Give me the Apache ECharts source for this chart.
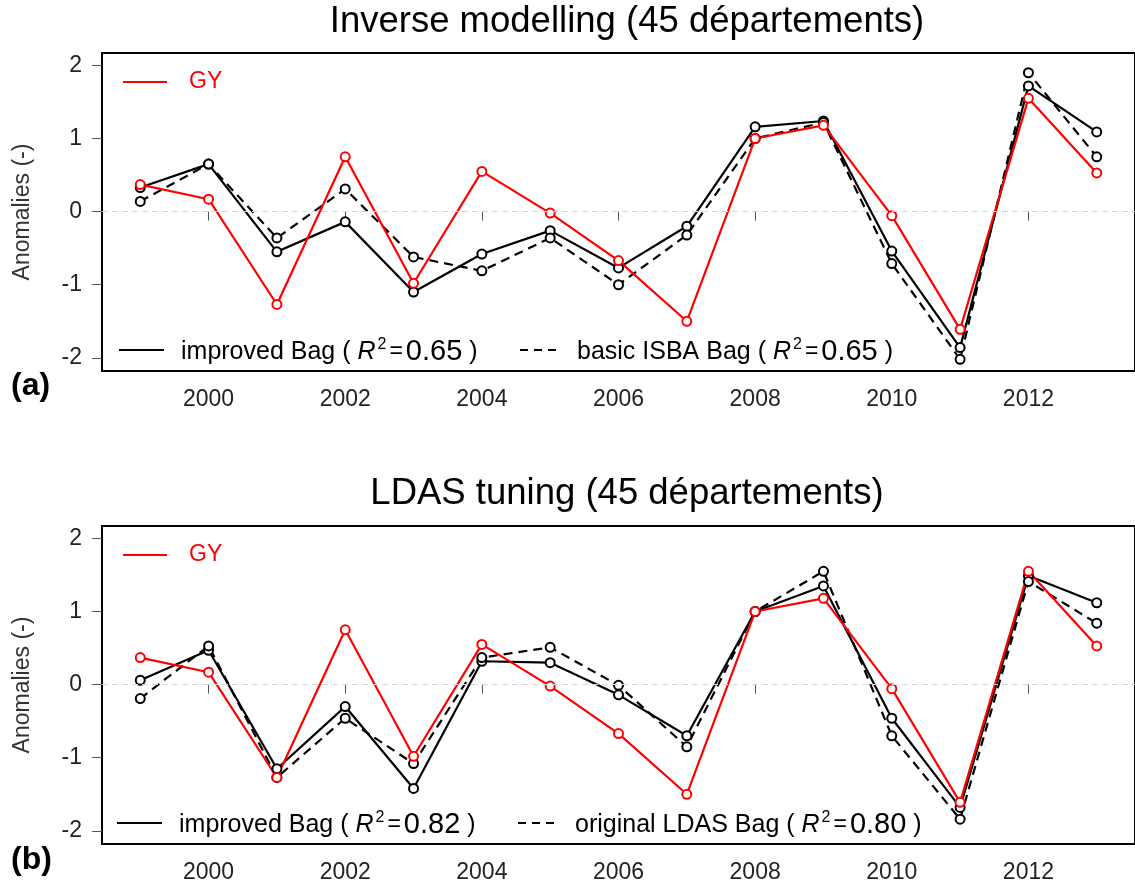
<!DOCTYPE html>
<html>
<head>
<meta charset="utf-8">
<script src="https://cdn.jsdelivr.net/npm/echarts@6/dist/echarts.min.js"></script>
<style>
  html, body { margin: 0; padding: 0; background: #fff; }
  #chart { width: 1135px; height: 888px; }
</style>
</head>
<body>
<div id="chart"></div>
<script>
// years and tick labels
const years = [1999, 2000, 2001, 2002, 2003, 2004, 2005, 2006, 2007, 2008, 2009, 2010, 2011, 2012, 2013];
const xTicks = [2000, 2002, 2004, 2006, 2008, 2010, 2012];
const yTicks = [-2, -1, 0, 1, 2];

// observed grain yield anomalies (same in both panels)
const gy = [0.37, 0.17, -1.27, 0.75, -0.98, 0.55, -0.02, -0.67, -1.5, 1.0, 1.18, -0.055, -1.61, 1.55, 0.53];

// (a) inverse modelling
const improvedA = [0.33, 0.65, -0.55, -0.14, -1.10, -0.58, -0.26, -0.77, -0.20, 1.16, 1.24, -0.54, -1.86, 1.72, 1.09];
const basicA = [0.14, 0.65, -0.36, 0.31, -0.62, -0.81, -0.36, -1.0, -0.32, 1.0, 1.22, -0.71, -2.02, 1.90, 0.75];

// (b) LDAS tuning
const improvedB = [0.06, 0.47, -1.15, -0.30, -1.42, 0.32, 0.30, -0.14, -0.70, 1.0, 1.35, -0.46, -1.68, 1.49, 1.12];
const ldasB = [-0.19, 0.53, -1.27, -0.46, -1.08, 0.37, 0.51, -0.01, -0.85, 1.0, 1.55, -0.70, -1.84, 1.41, 0.84];

const font = '"Liberation Sans", Arial, sans-serif';
const pairs = vals => years.map((y, i) => [y, vals[i]]);

const gridTops = [53, 526];

function xAxisFor(i) {
  return {
    type: 'value', gridIndex: i, min: 1998.44, max: 2013.56,
    axisLine: { show: false },
    splitLine: { show: false },
    axisTick: { show: true, length: 9, customValues: xTicks, lineStyle: { color: '#555', width: 1 } },
    axisLabel: { customValues: xTicks, margin: 17, fontSize: 23, color: '#222', fontFamily: font,
      formatter: v => String(v) }
  };
}
function yAxisFor(i) {
  return {
    type: 'value', gridIndex: i, min: -2.18, max: 2.17,
    name: 'Anomalies (-)', nameLocation: 'middle', nameGap: 68, nameRotate: 90,
    nameTextStyle: { fontSize: 23, color: '#333', fontFamily: font },
    axisLine: { show: false },
    splitLine: { show: false },
    axisTick: { show: true, length: 10, customValues: yTicks, lineStyle: { color: '#555', width: 1 } },
    axisLabel: { customValues: yTicks, margin: 20, fontSize: 23, color: '#222', fontFamily: font }
  };
}

function lineSeries(i, vals, color, dashed, zeroLine) {
  const s = {
    type: 'line', xAxisIndex: i, yAxisIndex: i,
    data: pairs(vals),
    symbol: 'emptyCircle', symbolSize: 9,
    itemStyle: { color: color, borderWidth: 2.2 },
    lineStyle: { color: color, width: 2.2, type: dashed ? [9, 6] : 'solid' },
    emphasis: { disabled: true },
    animation: false
  };
  if (zeroLine) {
    s.markLine = {
      silent: true, symbol: 'none', label: { show: false },
      lineStyle: { color: '#d8d8d8', width: 1, type: [6, 4] },
      data: [{ yAxis: 0 }]
    };
  }
  return s;
}

const rich = {
  t: { fontSize: 25, fontFamily: font, color: '#000' },
  r: { fontSize: 25, fontFamily: font, fontStyle: 'italic', color: '#000' },
  s: { fontSize: 16, fontFamily: font, color: '#000', padding: [0, 3, 14, 2] },
  e: { fontSize: 23, fontFamily: font, color: '#000', padding: [0, 3, 0, 0] },
  v: { fontSize: 29, fontFamily: font, color: '#000' }
};

function legendItems(top, dx, label1, r1, label2, r2) {
  const yLine = top + 297;
  return [
    { type: 'line', shape: { x1: 123, y1: top + 29, x2: 167, y2: top + 29 }, style: { stroke: '#ff0000', lineWidth: 2 } },
    { type: 'text', x: 189, y: top + 29, style: { text: 'GY', fontSize: 23, fontFamily: font, fill: '#ff0000', verticalAlign: 'middle' } },
    { type: 'line', shape: { x1: 119 + dx, y1: yLine, x2: 164 + dx, y2: yLine }, style: { stroke: '#000', lineWidth: 2 } },
    { type: 'text', x: 181 + dx, y: yLine + 2, style: {
        text: '{t|' + label1 + ' ( }{r|R}{s|2}{e|=}{v|' + r1 + '}{t| )}', rich: rich, verticalAlign: 'middle' } },
    { type: 'line', shape: { x1: 520 + dx, y1: yLine, x2: 556 + dx, y2: yLine }, style: { stroke: '#000', lineWidth: 2, lineDash: [8, 6] } },
    { type: 'text', x: 577 + dx, y: yLine + 2, style: {
        text: '{t|' + label2 + ' ( }{r|R}{s|2}{e|=}{v|' + r2 + '}{t| )}', rich: rich, verticalAlign: 'middle' } }
  ];
}

const chart = echarts.init(document.getElementById('chart'));
chart.setOption({
  backgroundColor: '#fff',
  animation: false,
  grid: gridTops.map(t => ({
    left: 102, right: -6, top: t, height: 318,
    show: true, borderColor: '#000', borderWidth: 2, backgroundColor: 'transparent'
  })),
  xAxis: [xAxisFor(0), xAxisFor(1)],
  yAxis: [yAxisFor(0), yAxisFor(1)],
  series: [
    lineSeries(0, improvedA, '#000', false, true),
    lineSeries(0, basicA, '#000', true, false),
    lineSeries(0, gy, '#ff0000', false, false),
    lineSeries(1, improvedB, '#000', false, true),
    lineSeries(1, ldasB, '#000', true, false),
    lineSeries(1, gy, '#ff0000', false, false)
  ],
  graphic: [
    { type: 'text', x: 627, y: 22, style: { text: 'Inverse modelling (45 départements)', fontSize: 36.5, fontFamily: font, fill: '#000', align: 'center', verticalAlign: 'middle' } },
    { type: 'text', x: 627, y: 494, style: { text: 'LDAS tuning (45 départements)', fontSize: 36.5, fontFamily: font, fill: '#000', align: 'center', verticalAlign: 'middle' } },
    { type: 'text', x: 11, y: 386, style: { text: '(a)', fontSize: 32, fontWeight: 'bold', fontFamily: font, fill: '#000', verticalAlign: 'middle' } },
    { type: 'text', x: 11, y: 860, style: { text: '(b)', fontSize: 32, fontWeight: 'bold', fontFamily: font, fill: '#000', verticalAlign: 'middle' } }
  ]
    .concat(legendItems(gridTops[0], 0, 'improved Bag', '0.65', 'basic ISBA Bag', '0.65'))
    .concat(legendItems(gridTops[1], -2, 'improved Bag', '0.82', 'original LDAS Bag', '0.80'))
});
</script>
</body>
</html>
